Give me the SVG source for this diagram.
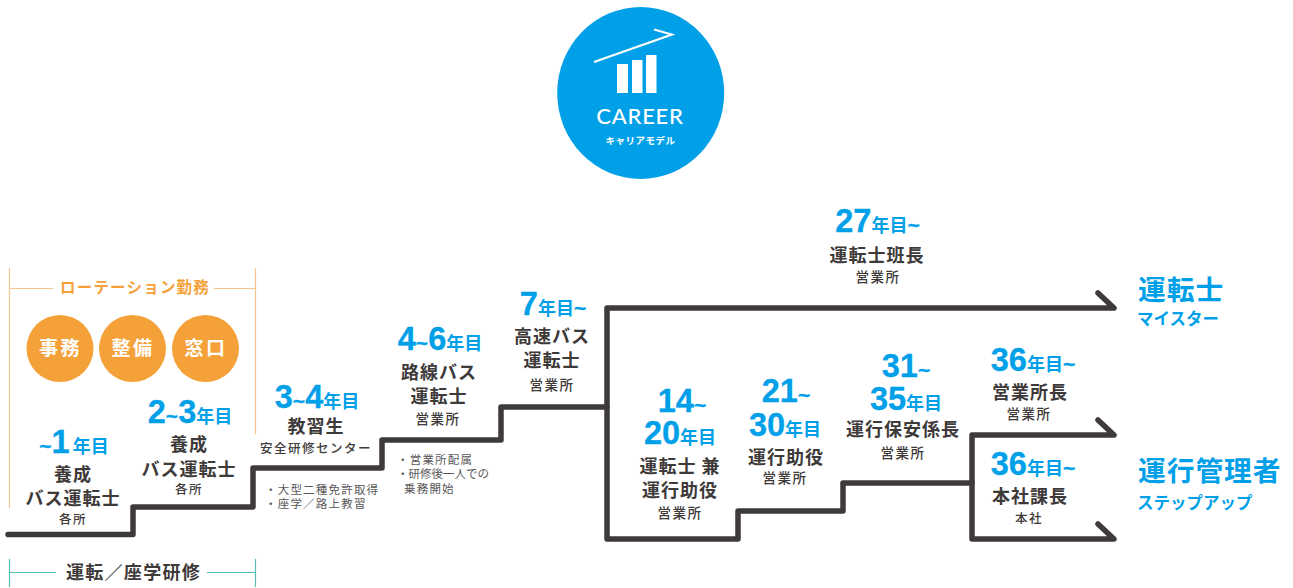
<svg xmlns="http://www.w3.org/2000/svg" width="1293" height="588" viewBox="0 0 1293 588">
<style>
text{font-family:"Noto Sans CJK JP","Noto Sans",sans-serif;text-anchor:middle}
.y{font-family:"Liberation Sans","Noto Sans CJK JP",sans-serif;font-weight:700;fill:#00a0e9;font-size:32.500px;stroke:#00a0e9;stroke-width:.3}
.y .u{font-family:"Noto Sans CJK JP",sans-serif;font-size:18px;stroke-width:0}
.y .t{font-size:21px}
.r{font-weight:700;font-size:18px;fill:#3e3a39;letter-spacing:1px}
.p{font-weight:500;font-size:13.500px;fill:#3e3a39;letter-spacing:1.500px}
.q{font-weight:500;font-size:12.500px;fill:#3e3a39;letter-spacing:1.500px}
.n{font-size:11.500px;fill:#595757;letter-spacing:1.200px;text-anchor:start}
.b{font-weight:700;font-size:27.700px;fill:#00a0e9;text-anchor:start;letter-spacing:1px}
.s{font-weight:700;font-size:16.500px;fill:#00a0e9;text-anchor:start}
.c{font-weight:700;font-size:19px;fill:#fff;letter-spacing:2.500px}
.line{fill:none;stroke:#3e3a39;stroke-width:5.500;stroke-linecap:round;stroke-linejoin:round}
.ol{fill:none;stroke:#f8c58c;stroke-width:1.200}
.tl{fill:none;stroke:#55bfb2;stroke-width:1.200}
</style>
<g id="career">
<ellipse cx="640.700" cy="93" rx="83.500" ry="86" fill="#00a0e9"/>
<path d="M594 62L672 34.500L654 29.500" fill="none" stroke="#fff" stroke-width="2"/>
<rect x="617" y="64" width="11" height="29" fill="#fff"/>
<rect x="632" y="60" width="10.500" height="33" fill="#fff"/>
<rect x="646" y="55" width="10.500" height="38" fill="#fff"/>
<text x="640" y="124" font-size="22" font-weight="500" fill="#fff" style="font-family:'Lato',sans-serif" letter-spacing=".8">CAREER</text>
<text x="640.500" y="144" font-size="9.500" font-weight="700" fill="#fff" letter-spacing=".5">キャリアモデル</text>
</g>
<g id="connectors">
<path class="line" d="M8 534.500H133V507H253V468H382V440H501V407H607"/>
<path class="line" d="M1098 293L1114 308H607V539H738V511H843V483H972"/>
<path class="line" d="M1098 420L1114 435H972V539H1114L1098 524"/>
</g>
<g id="rotation">
<path class="ol" d="M9.500 268V508M255.500 268V434M10 288.500H53M214 288.500H255"/>
<text x="135" y="293" font-size="15.500" font-weight="700" fill="#f5a13a" letter-spacing="1.200">ローテーション勤務</text>
</g>
<g id="jimu"><circle cx="60" cy="348.500" r="33.500" fill="#f5a13a"/><text class="c" x="60.500" y="355">事務</text></g>
<g id="seibi"><circle cx="132.500" cy="348.500" r="33.500" fill="#f5a13a"/><text class="c" x="133" y="355">整備</text></g>
<g id="madoguchi"><circle cx="205.500" cy="348.500" r="33.500" fill="#f5a13a"/><text class="c" x="206" y="355">窓口</text></g>
<g id="training">
<path class="tl" d="M9.500 559V587M255.500 559V587M10 572.500H56M207 572.500H255"/>
<text x="133.500" y="579" font-size="18" font-weight="700" fill="#3e3a39" letter-spacing="1.300">運転／座学研修</text>
</g>
<g id="s1"><text class="y" x="74" y="453"><tspan class="t">~</tspan>1<tspan class="u" dx="3">年目</tspan></text>
<text class="r" x="73" y="481">養成</text><text class="r" x="73" y="505">バス運転士</text><text class="q" x="73" y="524">各所</text></g>
<g id="s2"><text class="y" x="190" y="423">2<tspan class="t">~</tspan>3<tspan class="u">年目</tspan></text>
<text class="r" x="189" y="451">養成</text><text class="r" x="189" y="476">バス運転士</text><text class="q" x="189" y="494">各所</text></g>
<g id="s3"><text class="y" x="317" y="408">3<tspan class="t">~</tspan>4<tspan class="u">年目</tspan></text>
<text class="r" x="316" y="433">教習生</text><text class="q" x="316" y="453">安全研修センター</text>
<text class="n" x="265" y="494">・大型二種免許取得</text><text class="n" x="265" y="508">・座学／路上教習</text></g>
<g id="s4"><text class="y" x="440" y="350">4<tspan class="t">~</tspan>6<tspan class="u">年目</tspan></text>
<text class="r" x="439" y="379">路線バス</text><text class="r" x="439" y="403">運転士</text><text class="p" x="438" y="424">営業所</text>
<text class="n" x="397" y="464">・営業所配属</text><text class="n" x="397" y="478" style="letter-spacing:0">・研修後一人での</text><text class="n" x="404" y="493">乗務開始</text></g>
<g id="s5"><text class="y" x="553" y="315">7<tspan class="u">年目</tspan><tspan class="t">~</tspan></text>
<text class="r" x="552" y="343">高速バス</text><text class="r" x="552" y="367">運転士</text><text class="p" x="552" y="390">営業所</text></g>
<g id="s6"><text class="y" x="682" y="412">14<tspan class="t">~</tspan></text><text class="y" x="680" y="444">20<tspan class="u">年目</tspan></text>
<text class="r" x="680" y="473" xml:space="preserve">運転士 兼</text><text class="r" x="680" y="497">運行助役</text><text class="p" x="680" y="518">営業所</text></g>
<g id="s7"><text class="y" x="786" y="402">21<tspan class="t">~</tspan></text><text class="y" x="785" y="436">30<tspan class="u">年目</tspan></text>
<text class="r" x="786" y="464">運行助役</text><text class="p" x="785" y="483">営業所</text></g>
<g id="s8"><text class="y" x="906" y="377">31<tspan class="t">~</tspan></text><text class="y" x="906" y="410">35<tspan class="u">年目</tspan></text>
<text class="r" x="903" y="436">運行保安係長</text><text class="p" x="903" y="458">営業所</text></g>
<g id="s9"><text class="y" x="1033" y="371">36<tspan class="u">年目</tspan><tspan class="t">~</tspan></text>
<text class="r" x="1030" y="399">営業所長</text><text class="p" x="1029" y="419">営業所</text></g>
<g id="s10"><text class="y" x="1033" y="475">36<tspan class="u">年目</tspan><tspan class="t">~</tspan></text>
<text class="r" x="1030" y="503">本社課長</text><text class="q" x="1029" y="523">本社</text></g>
<g id="s11"><text class="y" x="877.500" y="232">27<tspan class="u">年目</tspan><tspan class="t">~</tspan></text>
<text class="r" x="877" y="262">運転士班長</text><text class="p" x="878" y="282">営業所</text></g>
<g id="meister"><text class="b" x="1138" y="300">運転士</text><text class="s" x="1137" y="325">マイスター</text></g>
<g id="manager"><text class="b" x="1138" y="481">運行管理者</text><text class="s" x="1137" y="509">ステップアップ</text></g>
</svg>
